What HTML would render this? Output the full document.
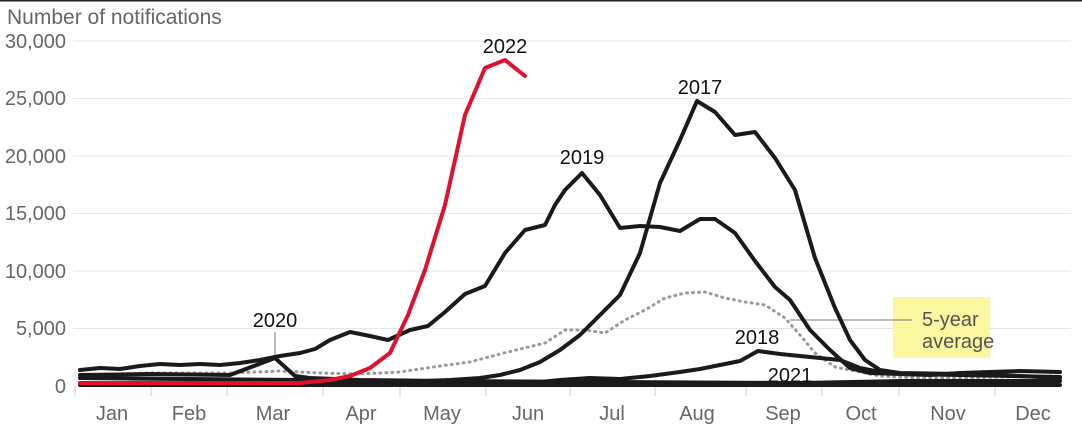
<!DOCTYPE html>
<html><head><meta charset="utf-8"><style>
html,body{margin:0;padding:0;background:#fff;}
svg{display:block;font-family:"Liberation Sans Narrow","Liberation Sans",sans-serif;}
</style></head><body>
<svg width="1082" height="436" viewBox="0 0 1082 436">
<line x1="0" y1="0.5" x2="1082" y2="0.5" stroke="#222" stroke-width="2"/>
<text x="7" y="24" font-size="21" fill="#666">Number of notifications</text>
<g stroke="#e6e6e6" stroke-width="1">
<line x1="73" y1="41" x2="1071" y2="41"/><line x1="73" y1="98.5" x2="1071" y2="98.5"/>
<line x1="73" y1="156" x2="1071" y2="156"/><line x1="73" y1="213.5" x2="1071" y2="213.5"/>
<line x1="73" y1="271" x2="1071" y2="271"/><line x1="73" y1="328.5" x2="1071" y2="328.5"/>
</g>
<g font-size="20" fill="#666" text-anchor="end">
<text x="66" y="48">30,000</text><text x="66" y="105">25,000</text><text x="66" y="163">20,000</text>
<text x="66" y="220">15,000</text><text x="66" y="278">10,000</text><text x="66" y="335">5,000</text>
<text x="66" y="393">0</text>
</g>
<g stroke="#ccc" stroke-width="1">
<line x1="75" y1="386" x2="75" y2="396"/><line x1="151" y1="386" x2="151" y2="396"/>
<line x1="227" y1="386" x2="227" y2="396"/><line x1="323" y1="386" x2="323" y2="396"/>
<line x1="400" y1="386" x2="400" y2="396"/><line x1="486" y1="386" x2="486" y2="396"/>
<line x1="570" y1="386" x2="570" y2="396"/><line x1="655" y1="386" x2="655" y2="396"/>
<line x1="746" y1="386" x2="746" y2="396"/><line x1="822" y1="386" x2="822" y2="396"/>
<line x1="899" y1="386" x2="899" y2="396"/><line x1="995" y1="386" x2="995" y2="396"/>
</g>
<g font-size="20" fill="#666" text-anchor="middle">
<text x="112" y="420">Jan</text><text x="189" y="420">Feb</text><text x="273" y="420">Mar</text>
<text x="361" y="420">Apr</text><text x="442" y="420">May</text><text x="528" y="420">Jun</text>
<text x="612" y="420">Jul</text><text x="697" y="420">Aug</text><text x="783" y="420">Sep</text>
<text x="861" y="420">Oct</text><text x="948" y="420">Nov</text><text x="1033" y="420">Dec</text>
</g>
<rect x="893" y="297" width="97" height="61" fill="#fbf6a0"/>
<line x1="790" y1="320" x2="912" y2="320" stroke="#777" stroke-width="1"/>
<line x1="275" y1="332" x2="275" y2="358" stroke="#777" stroke-width="1"/>
<g fill="none" stroke-linejoin="round" stroke-linecap="round">
<polyline stroke="#999" stroke-width="3" stroke-dasharray="1 5" points="80,375 150,373 230,373 280,371 320,373 360,374 400,372 440,366 470,362 500,354 520,349 545,343 565,330 585,330 605,333 625,320 645,310 665,298 685,293 705,292 725,298 745,302 765,305 785,318 800,335 815,353 835,367 855,371 880,376 920,378 960,378 1000,377 1060,376"/>
<polyline stroke="#1a1a1a" stroke-width="4" points="80,385 1060,385"/>
<polyline stroke="#1a1a1a" stroke-width="4" points="80,383 540,382 560,380 590,378 620,379 650,376 680,372 700,369 720,365 740,361 758,351 780,354 800,356 820,358 840,360 860,368 880,372 900,374 960,375 1060,377"/>
<polyline stroke="#1a1a1a" stroke-width="4" points="80,378 300,380 400,382 450,380 480,378 500,375 520,370 540,362 560,350 580,335 600,315 620,295 640,253 660,183 680,140 697,101 715,112 735,135 755,132 775,158 795,190 815,258 835,308 850,340 865,360 880,370 900,373 960,374 1020,376 1060,378"/>
<polyline stroke="#1a1a1a" stroke-width="4" points="80,375 150,374 230,375 275,358 295,376 310,378 360,380 450,381 600,382 800,383 900,381 1060,381"/>
<polyline stroke="#1a1a1a" stroke-width="4" points="80,370 100,368 120,369 140,366 160,364 180,365 200,364 220,365 240,363 260,360 280,356 300,353 315,349 330,340 350,332 370,336 388,340 410,330 428,326 445,312 465,294 485,286 505,253 525,230 545,225 555,205 565,190 582,173 600,195 620,228 640,226 660,227 680,231 700,219 715,219 735,233 755,261 775,287 790,300 810,330 830,350 850,368 870,373 900,374 930,375 960,373 990,372 1020,371 1060,372"/>
<polyline stroke="#e0102f" stroke-width="4" points="80,383 300,383 330,380 350,376 370,368 390,353 408,315 425,270 445,205 465,115 485,68 505,60 525,76"/>
</g>
<g font-size="20" fill="#111" text-anchor="middle">
<text x="505" y="53">2022</text><text x="700" y="94">2017</text><text x="582" y="164">2019</text>
<text x="275" y="327">2020</text><text x="757" y="344">2018</text><text x="790" y="382">2021</text>
</g>
<g font-size="20" fill="#555"><text x="922" y="326">5-year</text><text x="922" y="348">average</text></g>
</svg>
</body></html>
